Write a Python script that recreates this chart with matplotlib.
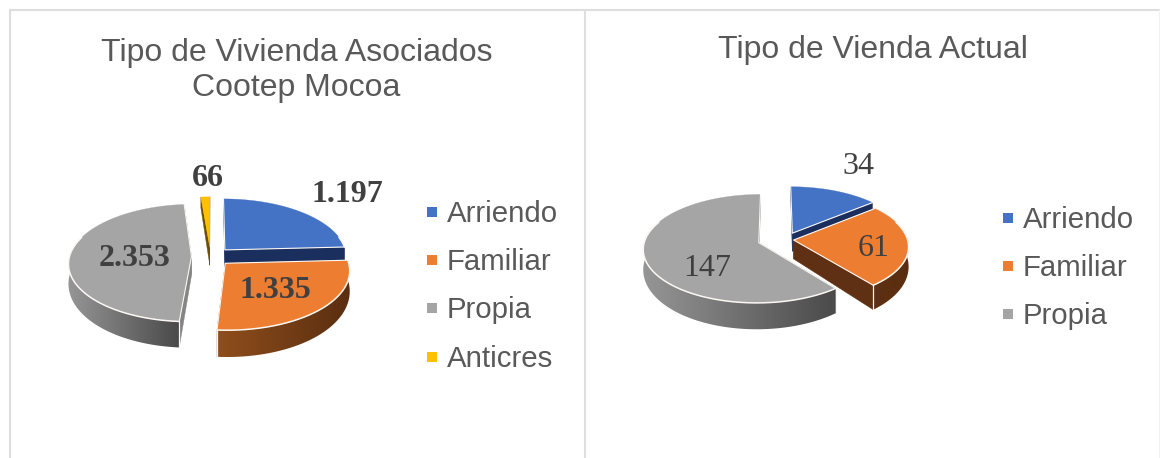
import numpy as np
import matplotlib
matplotlib.use("Agg")
import matplotlib.pyplot as plt
from matplotlib.patches import Polygon

# ---- data ----
title_left = "Tipo de Vivienda Asociados\nCootep Mocoa"
categories_left = ["Arriendo", "Familiar", "Propia", "Anticres"]
values_left = [1197, 1335, 2353, 66]
title_right = "Tipo de Vienda Actual"
categories_right = ["Arriendo", "Familiar", "Propia"]
values_right = [34, 61, 147]

# ---- styles ----
TOP = {"Arriendo": "#4472c4", "Familiar": "#ed7d31", "Propia": "#a5a5a5", "Anticres": "#ffc000"}
CUT = {"Arriendo": "#1b2f5e", "Familiar": "#5f3013", "Propia": "#858585", "Anticres": "#6b5000"}
WALL_L = {"Arriendo": "#1b2f5e", "Familiar": "#8f4e1c", "Propia": "#969696", "Anticres": "#7f6000"}
WALL_R = {"Arriendo": "#1b2f5e", "Familiar": "#5a2e10", "Propia": "#4a4a4a", "Anticres": "#7f6000"}
WALL_L_RIGHT_PIE = dict(WALL_L, Familiar="#5f3013")
TXT = "#595959"
LBL = "#404040"
RIM = "#fbf8f4"
SANS = "Liberation Sans"
SERIF = "Liberation Serif"

fig = plt.figure(figsize=(11.6, 4.58), dpi=100, facecolor="white")
ax = fig.add_axes([0, 0, 1, 1])
ax.set_xlim(0, 1160)
ax.set_ylim(458, 0)
ax.axis("off")


def rgb(c):
    return np.array(matplotlib.colors.to_rgb(c))


def draw_pie(cats, vals, cx, cy, A, B, k, offsets, wall_l):
    """Perspective 3D pie, with clockwise slices from 12 o'clock."""
    vals = np.asarray(vals, float)
    edges = np.concatenate([[0], np.cumsum(vals)]) / vals.sum() * 2 * np.pi

    def proj(X, Y, down=False):
        X, Y = np.asarray(X, float), np.asarray(Y, float)
        w = 1 + k * Y
        px = cx + A * X / w
        py = cy - B * Y / w
        if down:
            py = py + (19 - 7 * Y)
        return px, py

    order = sorted(range(len(cats)),
                   key=lambda i: offsets[i][1] + np.cos((edges[i] + edges[i + 1]) / 2), reverse=True)
    for rank, i in enumerate(order):
        z = 2 + rank * 3
        name = cats[i]
        ox, oy = offsets[i]
        t = np.linspace(edges[i], edges[i + 1], 300)
        X = ox + np.sin(t)
        Y = oy + np.cos(t)
        # cut faces
        for e in (edges[i], edges[i + 1]):
            xs = [ox, ox + np.sin(e)]
            ys = [oy, oy + np.cos(e)]
            tx, ty = proj(xs, ys)
            bx, by = proj(xs, ys, True)
            ax.fill(list(tx) + list(bx[::-1]), list(ty) + list(by[::-1]),
                    facecolor=CUT[name], edgecolor=CUT[name], lw=0.3, zorder=z)
        # outer wall, gradient left to right
        tx, ty = proj(X, Y)
        bx, by = proj(X, Y, True)
        vis = Y < 0.3
        if vis.sum() > 1:
            x0, x1 = tx[vis].min(), tx[vis].max()
            poly = np.column_stack([np.r_[tx[vis], bx[vis][::-1]], np.r_[ty[vis], by[vis][::-1]]])
            patch = Polygon(poly, closed=True, transform=ax.transData, fc="none", ec="none")
            ax.add_patch(patch)
            grad = np.linspace(rgb(wall_l[name]), rgb(WALL_R[name]), 256)[None, :, :]
            im = ax.imshow(grad, extent=(x0, x1, poly[:, 1].max() + 1, poly[:, 1].min() - 1),
                           aspect="auto", interpolation="bilinear", zorder=z + 0.5)
            im.set_clip_path(patch)
            ax.set_xlim(0, 1160)
            ax.set_ylim(458, 0)
            # white line on front corners of the wall
            for idx in (0, -1):
                if Y[idx] < -0.3:
                    ax.plot([tx[idx], bx[idx]], [ty[idx], by[idx]], color=RIM, lw=0.9,
                            solid_capstyle="butt", zorder=z + 0.7)
        # top face
        a0x, a0y = proj([ox], [oy])
        fx, fy = np.r_[a0x, tx], np.r_[a0y, ty]
        ax.fill(fx, fy, facecolor=TOP[name], edgecolor=TOP[name], lw=0.2, zorder=z + 1)
        # rim: light line along the front of the arc and the radial edges
        front = Y < 0.35
        ax.plot(np.where(front, tx, np.nan), np.where(front, ty, np.nan), color=RIM, lw=1.1,
                solid_capstyle="round", zorder=z + 1.2)
        if len(t) and vals[i] / vals.sum() > 0.05:
            ax.plot([tx[0], a0x[0], tx[-1]], [ty[0], a0y[0], ty[-1]], color=RIM, lw=0.8,
                    solid_joinstyle="round", zorder=z + 1.2)


def fmt(v):
    return f"{v:,}".replace(",", ".")


def legend(cats, x, ys, size):
    for c, y in zip(cats, ys):
        ax.fill([x, x + 10, x + 10, x], [y - 5, y - 5, y + 5, y + 5], color=TOP[c], lw=0, zorder=50)
        ax.text(x + 20, y + 2, c, fontsize=size, family=SANS, color=TXT, va="center", ha="left", zorder=50)


# ---- frames ----
for xs, ys, col in [((9.5, 9.5), (458, 9.5), "#dedede"),
                    ((8.8, 1160), (9.5, 9.5), "#dedede"),
                    ((584.5, 584.5), (9.5, 458), "#dedede"),
                    ((1159.5, 1159.5), (9.5, 458), "#f2f2f2")]:
    ax.plot(xs, ys, color=col, lw=1.5, solid_capstyle="butt", zorder=1)

# ---- left chart ----
draw_pie(categories_left, values_left, 211, 256.5, 122, 58, 0.11,
         [(0.115, 0.115), (0.115, -0.115), (-0.16, 0.0), (-0.01, 0.16)], WALL_L)
l1, l2 = title_left.split("\n")
ax.text(296.5, 53, l1, fontsize=23, family=SANS, color=TXT, ha="center", va="center", zorder=50)
ax.text(296, 88, l2, fontsize=23, family=SANS, color=TXT, ha="center", va="center", zorder=50)
legend(categories_left, 427, [212, 260, 308, 357], 21.2)
for v, (x, y) in zip(values_left, [(347, 194), (275, 290), (135, 258), (208, 179)]):
    ax.text(x, y, fmt(v), fontsize=23, family=SERIF, weight="bold", color=LBL, ha="center", va="center", zorder=60)

# ---- right chart ----
draw_pie(categories_right, values_right, 776, 240, 114, 53, 0.11,
         [(0.145, 0.13), (0.155, 0.0), (-0.15, -0.05)], WALL_L_RIGHT_PIE)
ax.text(872.5, 50, title_right, fontsize=23, family=SANS, color=TXT, ha="center", va="center", zorder=50)
legend(categories_right, 1003, [218, 266, 314], 21.2)
for v, (x, y) in zip(values_right, [(858, 166), (874, 248), (707, 269)]):
    ax.text(x, y, fmt(v), fontsize=23, family=SERIF, color=LBL, ha="center", va="center", zorder=60)

fig.savefig("out.png", dpi=100, facecolor="white")
